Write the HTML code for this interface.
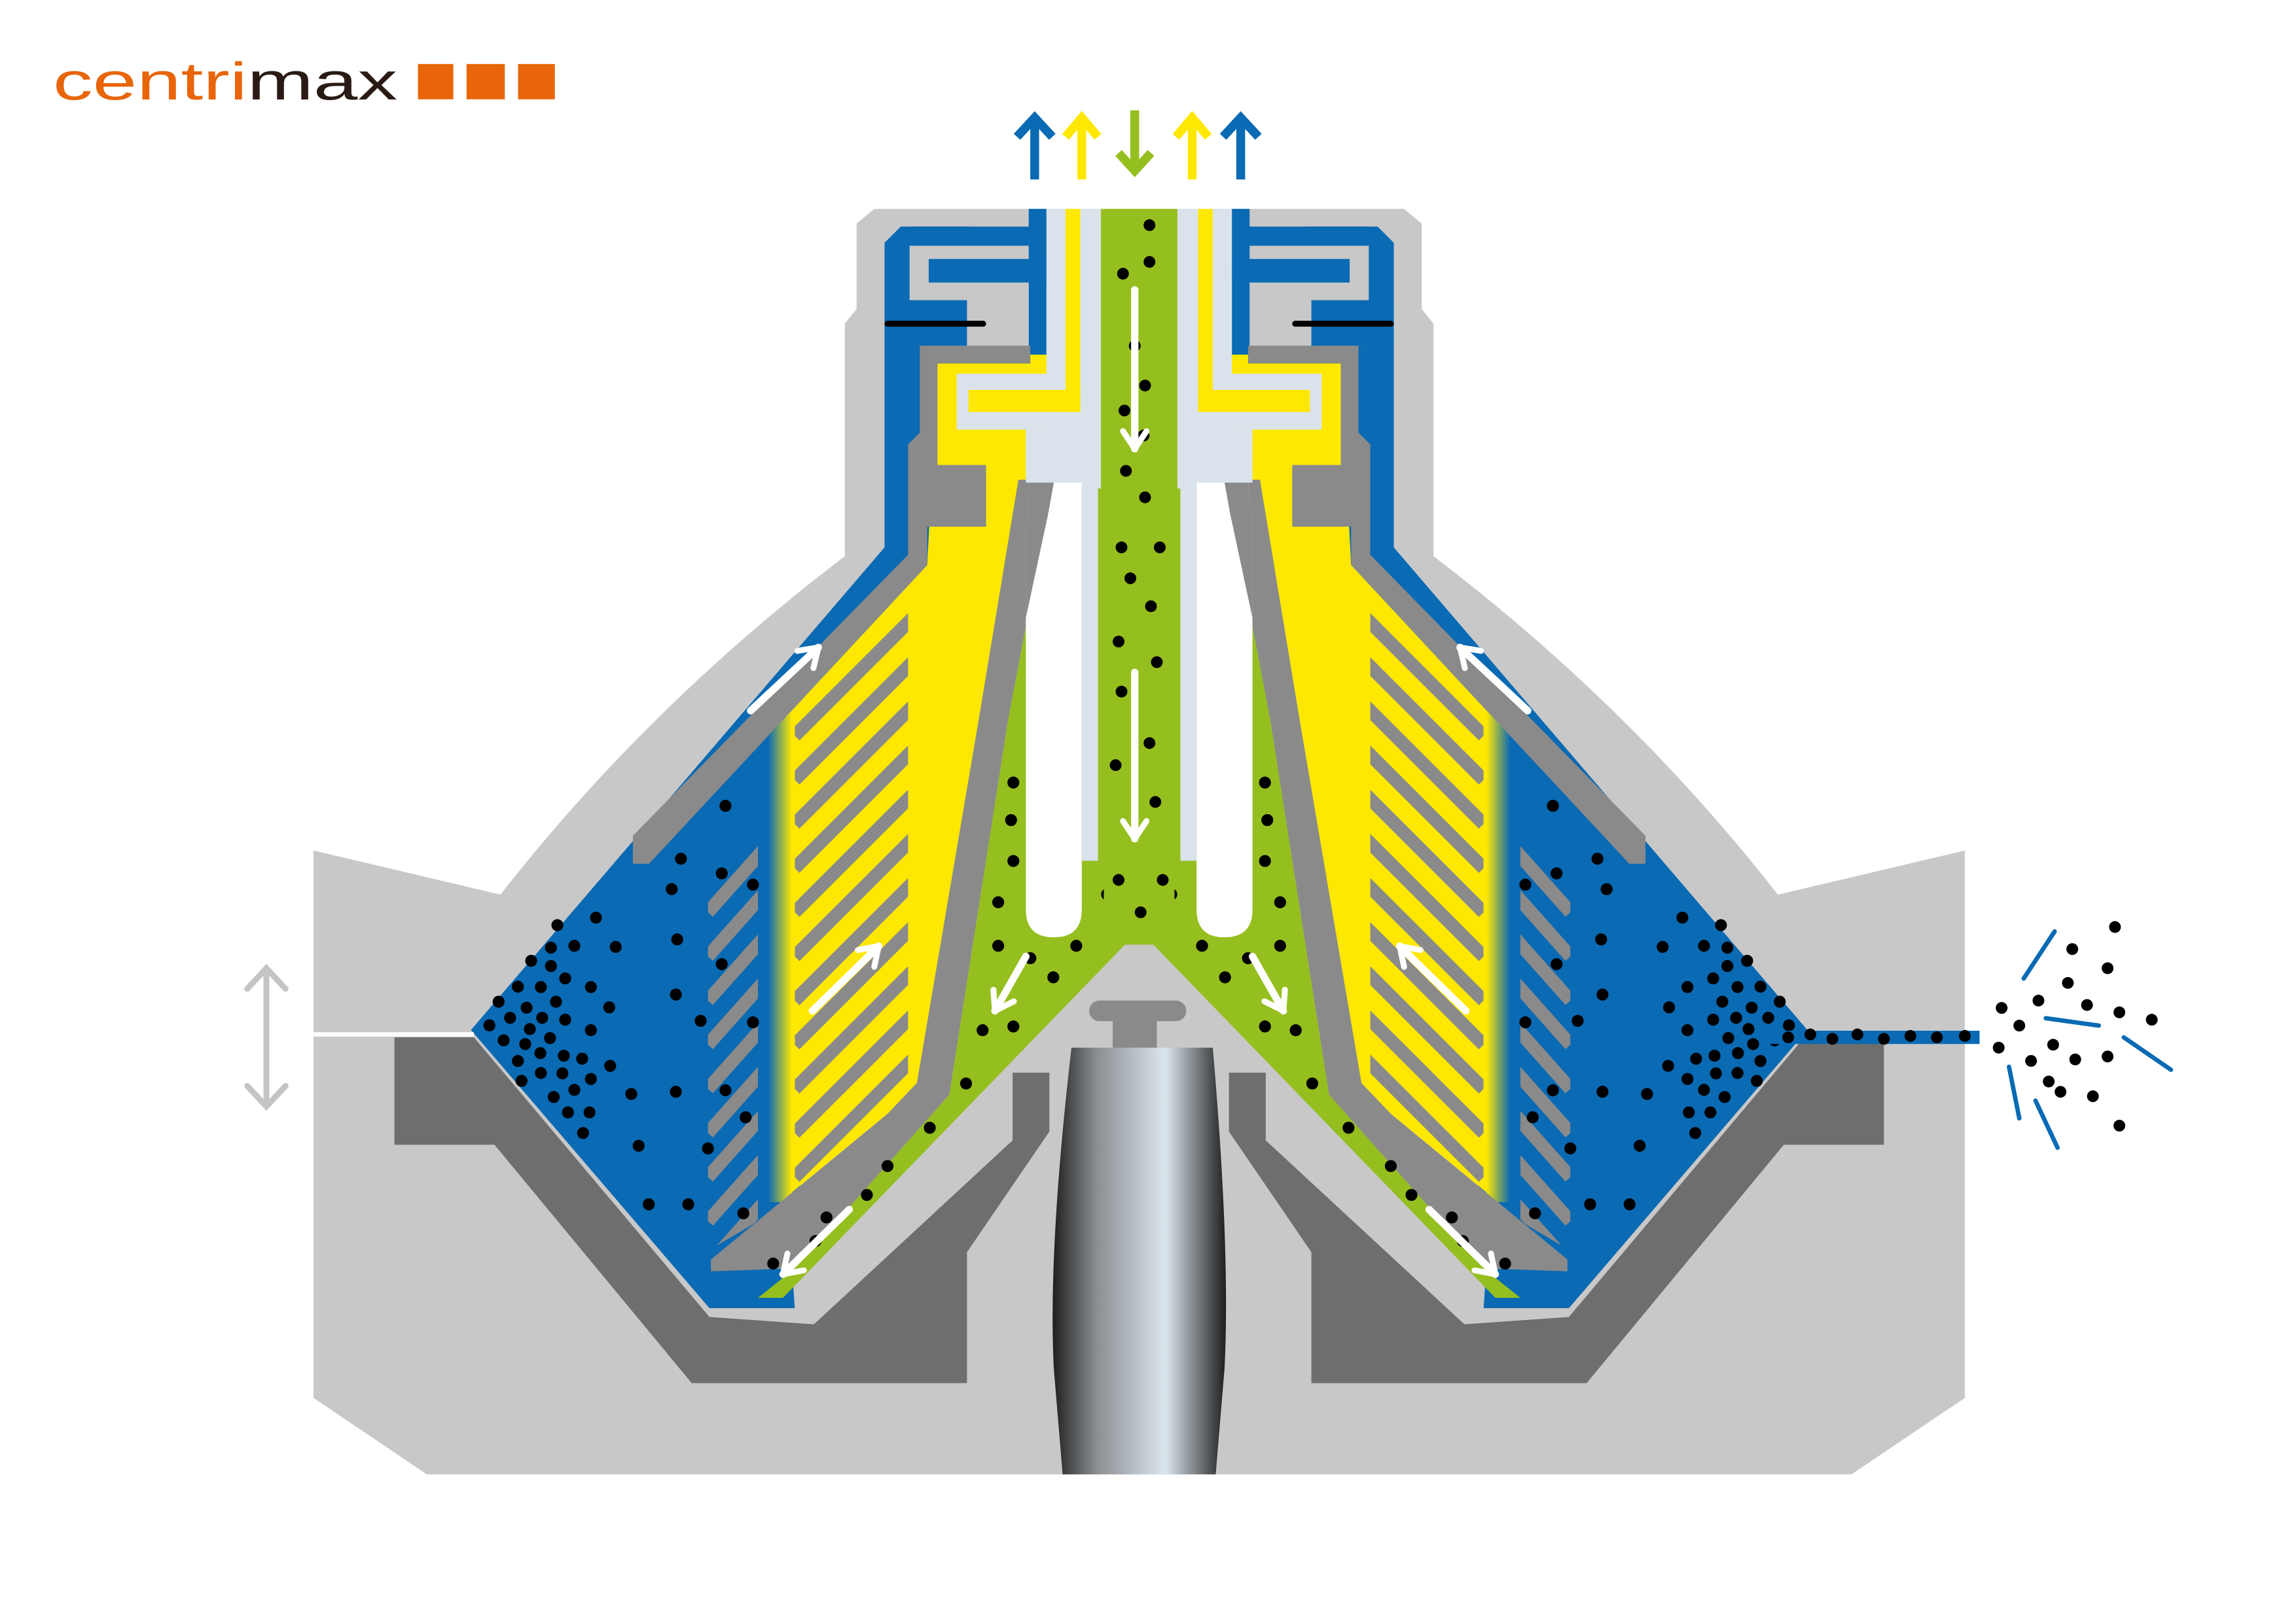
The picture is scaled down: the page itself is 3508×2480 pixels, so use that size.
<!DOCTYPE html>
<html><head><meta charset="utf-8"><style>html,body{margin:0;padding:0;background:#fff}svg{display:block}</style></head><body>
<svg xmlns="http://www.w3.org/2000/svg" width="3508" height="2480" viewBox="0 0 1560 1103" preserveAspectRatio="none">
<defs>
<marker id="ah" viewBox="0 0 10 10" refX="7" refY="5" markerWidth="4" markerHeight="4" orient="auto" markerUnits="strokeWidth">
<path d="M1,1 L7,5 L1,9" fill="none" stroke="#fff" stroke-width="2" stroke-linecap="round" stroke-linejoin="round"/>
</marker>
<linearGradient id="by" x1="0" x2="1" y1="0" y2="0"><stop offset="0" stop-color="#0a6ab4"/><stop offset="1" stop-color="#ffe800"/></linearGradient>
<linearGradient id="sp" x1="0" x2="1" y1="0" y2="0"><stop offset="0" stop-color="#1e1e1e"/><stop offset="0.25" stop-color="#8a8e92"/><stop offset="0.65" stop-color="#dce6ee"/><stop offset="1" stop-color="#1e1e1e"/></linearGradient>
<clipPath id="cy"><polygon points="540,480 617,405 617,745 540,815"/></clipPath>
<clipPath id="cb"><polygon points="481,600 515,558 515,830 481,850"/></clipPath>
<g id="half">
<!-- housing -->
<path d="M213,578 L340,608 Q440,480 574,378 L574,220 L582,210 L582,152 L594,142 L774,142 L774,1002 L290,1002 L213,950 Z" fill="#c8c8c8"/>
<!-- blue -->
<polygon points="320,700 601,372 601,165 612,154 699,154 699,142 711,142 711,300 536,830 540,889 482,889" fill="#0a6ab4"/>
<!-- neck grey inside -->
<rect x="618" y="167" width="81" height="68" fill="#c8c8c8"/>
<rect x="617" y="154" width="44" height="13" fill="#0a6ab4"/>
<rect x="631" y="176" width="80" height="16" fill="#0a6ab4"/>
<rect x="699" y="142" width="12" height="50" fill="#0a6ab4"/>
<rect x="601" y="204" width="56" height="31" fill="#0a6ab4"/>
<line x1="603" y1="220" x2="668" y2="220" stroke="#000" stroke-width="4" stroke-linecap="round"/>
<!-- base -->
<polygon points="268,705 322,705 482,895 553,900 688,775 688,729 713,729 713,769 657,851 657,940 470,940 336,778 268,778" fill="#6e6e6e"/>
<!-- yellow -->
<polygon points="637,247 700,247 700,241 715,241 715,326 692,326 665,489 623,736 603,757 536,812 536,485 630,384" fill="#ffe800"/>
<g clip-path="url(#cy)" stroke="#8a8a8a" stroke-width="9">
<line x1="540" y1="470" x2="620" y2="390"/><line x1="540" y1="500" x2="620" y2="420"/><line x1="540" y1="530" x2="620" y2="450"/><line x1="540" y1="560" x2="620" y2="480"/><line x1="540" y1="590" x2="620" y2="510"/><line x1="540" y1="620" x2="620" y2="540"/><line x1="540" y1="650" x2="620" y2="570"/><line x1="540" y1="680" x2="620" y2="600"/><line x1="540" y1="710" x2="620" y2="630"/><line x1="540" y1="740" x2="620" y2="660"/><line x1="540" y1="770" x2="620" y2="690"/><line x1="540" y1="800" x2="620" y2="720"/><line x1="540" y1="830" x2="620" y2="750"/>
</g>
<g clip-path="url(#cb)" stroke="#8a8a8a" stroke-width="9">
<line x1="481" y1="620" x2="521" y2="575"/><line x1="481" y1="650" x2="521" y2="605"/><line x1="481" y1="680" x2="521" y2="635"/><line x1="481" y1="710" x2="521" y2="665"/><line x1="481" y1="740" x2="521" y2="695"/><line x1="481" y1="770" x2="521" y2="725"/><line x1="481" y1="800" x2="521" y2="755"/><line x1="481" y1="830" x2="521" y2="785"/><line x1="481" y1="860" x2="521" y2="815"/>
</g>
<rect x="522" y="482" width="16" height="335" fill="url(#by)"/>
<!-- grey walls -->
<polygon points="625,235 700,235 700,247 637,247 637,316 670,316 670,358 630,358 630,384 441,587 430,587 430,568 617,377 617,302 625,294" fill="#8a8a8a"/>
<polygon points="692,326 716,326 685,489 645,744 540,862 483,864 483,856 603,757 623,736 665,489" fill="#8a8a8a"/>
<!-- green -->
<polygon points="748,142 774,142 774,632 532,882 515,882 540,862 645,744 685,489 716,326 748,326" fill="#95bf1f"/>
<!-- light blue neck -->
<rect x="711" y="142" width="37" height="190" fill="#dae3eb"/>
<rect x="650" y="254" width="98" height="38" fill="#dae3eb"/>
<rect x="697" y="292" width="51" height="36" fill="#dae3eb"/>
<rect x="724" y="142" width="10" height="138" fill="#ffe800"/>
<rect x="658" y="265" width="76" height="15" fill="#ffe800"/>
<!-- tube -->
<path d="M700,328 L735,328 L735,618 Q735,637 716,637 Q697,637 697,618 L697,360 Z" fill="#fff"/>
<polygon points="700,328 716,328 712,350 697,420 697,360" fill="#8a8a8a"/>
<rect x="735" y="328" width="11" height="257" fill="#dae3eb"/>
<!-- dots -->
<g fill="#000" transform="translate(311,489) scale(0.312,0.255)">
<ellipse cx="583" cy="230" rx="13" ry="16"/><ellipse cx="486" cy="371" rx="13" ry="16"/><ellipse cx="575" cy="410" rx="13" ry="16"/><ellipse cx="466" cy="452" rx="13" ry="16"/><ellipse cx="643" cy="440" rx="13" ry="16"/><ellipse cx="301" cy="528" rx="13" ry="16"/><ellipse cx="217" cy="548" rx="13" ry="16"/><ellipse cx="254" cy="603" rx="13" ry="16"/><ellipse cx="203" cy="608" rx="13" ry="16"/><ellipse cx="344" cy="606" rx="13" ry="16"/><ellipse cx="478" cy="586" rx="13" ry="16"/><ellipse cx="160" cy="643" rx="13" ry="16"/><ellipse cx="203" cy="657" rx="13" ry="16"/><ellipse cx="234" cy="690" rx="13" ry="16"/><ellipse cx="131" cy="712" rx="13" ry="16"/><ellipse cx="181" cy="713" rx="13" ry="16"/><ellipse cx="290" cy="713" rx="13" ry="16"/><ellipse cx="89" cy="752" rx="13" ry="16"/><ellipse cx="150" cy="768" rx="13" ry="16"/><ellipse cx="214" cy="752" rx="13" ry="16"/><ellipse cx="330" cy="767" rx="13" ry="16"/><ellipse cx="114" cy="795" rx="13" ry="16"/><ellipse cx="184" cy="795" rx="13" ry="16"/><ellipse cx="234" cy="800" rx="13" ry="16"/><ellipse cx="69" cy="815" rx="13" ry="16"/><ellipse cx="157" cy="825" rx="13" ry="16"/><ellipse cx="290" cy="828" rx="13" ry="16"/><ellipse cx="201" cy="849" rx="13" ry="16"/><ellipse cx="100" cy="855" rx="13" ry="16"/><ellipse cx="147" cy="865" rx="13" ry="16"/><ellipse cx="180" cy="889" rx="13" ry="16"/><ellipse cx="131" cy="910" rx="13" ry="16"/><ellipse cx="231" cy="896" rx="13" ry="16"/><ellipse cx="271" cy="904" rx="13" ry="16"/><ellipse cx="332" cy="923" rx="13" ry="16"/><ellipse cx="181" cy="942" rx="13" ry="16"/><ellipse cx="228" cy="943" rx="13" ry="16"/><ellipse cx="139" cy="963" rx="13" ry="16"/><ellipse cx="290" cy="958" rx="13" ry="16"/><ellipse cx="254" cy="987" rx="13" ry="16"/><ellipse cx="378" cy="998" rx="13" ry="16"/><ellipse cx="475" cy="992" rx="13" ry="16"/><ellipse cx="583" cy="988" rx="13" ry="16"/><ellipse cx="209" cy="1006" rx="13" ry="16"/><ellipse cx="240" cy="1047" rx="13" ry="16"/><ellipse cx="287" cy="1047" rx="13" ry="16"/><ellipse cx="627" cy="1060" rx="13" ry="16"/><ellipse cx="273" cy="1102" rx="13" ry="16"/><ellipse cx="394" cy="1136" rx="13" ry="16"/><ellipse cx="545" cy="1143" rx="13" ry="16"/><ellipse cx="416" cy="1292" rx="13" ry="16"/><ellipse cx="502" cy="1292" rx="13" ry="16"/><ellipse cx="622" cy="1316" rx="13" ry="16"/><ellipse cx="475" cy="733" rx="13" ry="16"/><ellipse cx="529" cy="803" rx="13" ry="16"/><ellipse cx="643" cy="807" rx="13" ry="16"/><ellipse cx="575" cy="652" rx="13" ry="16"/>
<ellipse cx="1210" cy="168" rx="13" ry="16"/><ellipse cx="1205" cy="268" rx="13" ry="16"/><ellipse cx="1210" cy="377" rx="13" ry="16"/><ellipse cx="1177" cy="487" rx="13" ry="16"/><ellipse cx="1177" cy="603" rx="13" ry="16"/><ellipse cx="1247" cy="636" rx="13" ry="16"/><ellipse cx="1297" cy="687" rx="13" ry="16"/><ellipse cx="1347" cy="603" rx="13" ry="16"/><ellipse cx="1414" cy="466" rx="13" ry="16"/><ellipse cx="1143" cy="828" rx="13" ry="16"/><ellipse cx="1210" cy="818" rx="13" ry="16"/><ellipse cx="1107" cy="970" rx="13" ry="16"/><ellipse cx="1028" cy="1088" rx="13" ry="16"/><ellipse cx="936" cy="1190" rx="13" ry="16"/><ellipse cx="891" cy="1267" rx="13" ry="16"/><ellipse cx="803" cy="1327" rx="13" ry="16"/><ellipse cx="779" cy="1390" rx="13" ry="16"/><ellipse cx="687" cy="1450" rx="13" ry="16"/>
</g>
<!-- arrows -->
<g stroke="#fff" stroke-width="5" stroke-linecap="round" fill="none" marker-end="url(#ah)">
<line x1="510" y1="483" x2="556" y2="440"/>
<line x1="552" y1="687" x2="597" y2="643"/>
<line x1="697" y1="650" x2="676" y2="687"/>
<line x1="577" y1="822" x2="532" y2="866"/>
</g>
</g>
</defs>
<rect width="1560" height="1103" fill="#fff"/>
<use href="#half"/>
<use href="#half" transform="translate(1548,0) scale(-1,1)"/>
<!-- central column -->
<rect x="750" y="142" width="48" height="500" fill="#95bf1f"/>
<polygon points="750,600 798,600 798,620 774,632 750,620" fill="#95bf1f"/>
<g fill="#000">
<circle cx="781" cy="153" r="4"/><circle cx="781" cy="178" r="4"/><circle cx="763" cy="186" r="4"/><circle cx="771" cy="235" r="4"/><circle cx="778" cy="262" r="4"/><circle cx="764" cy="279" r="4"/><circle cx="777" cy="296" r="4"/><circle cx="765" cy="320" r="4"/><circle cx="778" cy="338" r="4"/><circle cx="762" cy="372" r="4"/><circle cx="788" cy="372" r="4"/><circle cx="768" cy="393" r="4"/><circle cx="782" cy="412" r="4"/><circle cx="760" cy="436" r="4"/><circle cx="786" cy="450" r="4"/><circle cx="762" cy="470" r="4"/><circle cx="781" cy="505" r="4"/><circle cx="758" cy="520" r="4"/><circle cx="785" cy="545" r="4"/><circle cx="760" cy="598" r="4"/><circle cx="790" cy="598" r="4"/><circle cx="775" cy="620" r="4"/>
</g>
<g stroke="#fff" stroke-width="5" stroke-linecap="round" fill="none" marker-end="url(#ah)">
<line x1="771" y1="197" x2="771" y2="305"/>
<line x1="771" y1="457" x2="771" y2="570"/>
</g>
<!-- spindle -->
<rect x="740" y="680" width="66" height="14" rx="7" fill="#8a8a8a"/>
<rect x="756" y="692" width="30" height="22" fill="#8a8a8a"/>
<path d="M728,712 L824,712 Q836,850 832,930 L826,1002 L722,1002 L716,930 Q712,850 728,712 Z" fill="url(#sp)"/>
<!-- left white gap + double arrow -->
<line x1="213" y1="703" x2="322" y2="703" stroke="#fff" stroke-width="3"/>
<g stroke="#c4c4c4" stroke-width="4" fill="none" stroke-linecap="round">
<line x1="181" y1="658" x2="181" y2="752"/>
<polyline points="168,672 181,658 194,672"/>
<polyline points="168,738 181,752 194,738"/>
</g>
<!-- right discharge -->
<line x1="1200" y1="705" x2="1345" y2="705" stroke="#0a6ab4" stroke-width="9"/>
<g fill="#000">
<circle cx="1215" cy="705" r="4"/><circle cx="1230" cy="703" r="4"/><circle cx="1245" cy="706" r="4"/><circle cx="1262" cy="703" r="4"/><circle cx="1280" cy="706" r="4"/><circle cx="1298" cy="704" r="4"/><circle cx="1316" cy="705" r="4"/><circle cx="1335" cy="704" r="4"/>
<circle cx="1437" cy="630" r="4"/><circle cx="1408" cy="645" r="4"/><circle cx="1432" cy="658" r="4"/><circle cx="1405" cy="668" r="4"/><circle cx="1385" cy="680" r="4"/><circle cx="1418" cy="683" r="4"/><circle cx="1440" cy="688" r="4"/><circle cx="1462" cy="693" r="4"/><circle cx="1360" cy="685" r="4"/><circle cx="1372" cy="697" r="4"/><circle cx="1395" cy="710" r="4"/><circle cx="1358" cy="712" r="4"/><circle cx="1380" cy="721" r="4"/><circle cx="1410" cy="720" r="4"/><circle cx="1432" cy="718" r="4"/><circle cx="1392" cy="735" r="4"/><circle cx="1422" cy="745" r="4"/><circle cx="1400" cy="742" r="4"/><circle cx="1440" cy="765" r="4"/>
</g>
<g stroke="#0a6ab4" stroke-width="3" stroke-linecap="round">
<line x1="1375" y1="665" x2="1396" y2="633"/><line x1="1390" y1="692" x2="1426" y2="697"/><line x1="1365" y1="725" x2="1372" y2="760"/><line x1="1383" y1="748" x2="1398" y2="780"/><line x1="1443" y1="705" x2="1475" y2="727"/>
</g>
<!-- top arrows -->
<g stroke-width="6" fill="none" stroke-linecap="butt">
<g stroke="#0a6ab4"><line x1="703" y1="122" x2="703" y2="80"/><polyline points="691,93 703,80 715,93"/></g>
<g stroke="#ffe800"><line x1="735" y1="122" x2="735" y2="80"/><polyline points="724,93 735,80 746,93"/></g>
<g stroke="#95bf1f"><line x1="771" y1="75" x2="771" y2="116"/><polyline points="760,104 771,116 782,104"/></g>
<g stroke="#ffe800"><line x1="810" y1="122" x2="810" y2="80"/><polyline points="799,93 810,80 821,93"/></g>
<g stroke="#0a6ab4"><line x1="843" y1="122" x2="843" y2="80"/><polyline points="831,93 843,80 855,93"/></g>
</g>
<!-- logo -->
<text x="36" y="67.5" font-family="Liberation Sans, sans-serif" font-size="36" textLength="234" lengthAdjust="spacingAndGlyphs"><tspan fill="#e8650a">centri</tspan><tspan fill="#2a1a14">max</tspan></text>
<rect x="284" y="43.5" width="24" height="24" fill="#e8650a"/>
<rect x="317" y="43.5" width="26" height="24" fill="#e8650a"/>
<rect x="352" y="43.5" width="25" height="24" fill="#e8650a"/>
</svg>
</body></html>
